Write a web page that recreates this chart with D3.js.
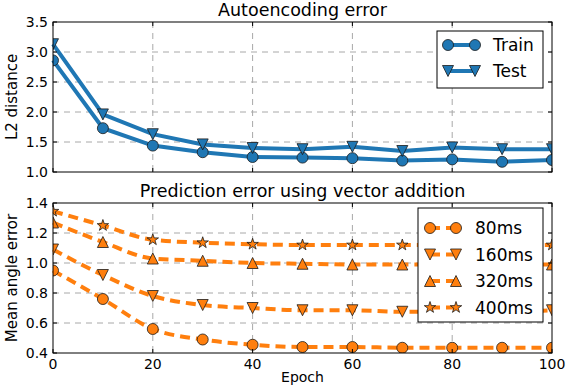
<!DOCTYPE html>
<html lang="en">
<head>
<meta charset="UTF-8">
<title>Autoencoding and prediction error</title>
<style>
  body { margin: 0; background: #fff; }
  text { font-family: "DejaVu Sans", sans-serif; fill: #000; }
</style>
</head>
<body>
<svg id="chart" width="570" height="390"></svg>
<script src="https://cdn.jsdelivr.net/npm/d3@7"></script>
<script>
// data
var epochs = [0, 10, 20, 30, 40, 50, 60, 70, 80, 90, 100];

var trainErr = [2.86, 1.73, 1.44, 1.33, 1.25, 1.24, 1.23, 1.19, 1.21, 1.17, 1.20];
var testErr  = [3.13, 1.96, 1.63, 1.46, 1.40, 1.38, 1.42, 1.35, 1.41, 1.38, 1.38];

var err80  = [0.95, 0.76, 0.56, 0.49, 0.455, 0.44, 0.44, 0.435, 0.435, 0.435, 0.435];
var err160 = [1.09, 0.92, 0.78, 0.72, 0.70, 0.685, 0.685, 0.675, 0.675, 0.675, 0.685];
var err320 = [1.27, 1.14, 1.03, 1.015, 1.0, 0.995, 0.99, 0.99, 0.99, 0.99, 0.99];
var err400 = [1.345, 1.25, 1.155, 1.135, 1.125, 1.12, 1.12, 1.12, 1.12, 1.12, 1.12];

var topTicks = [1.0, 1.5, 2.0, 2.5, 3.0, 3.5];
var botTicks = [0.4, 0.6, 0.8, 1.0, 1.2, 1.4];
var xTicks = [0, 20, 40, 60, 80, 100];

var blue = "#1f77b4", orange = "#ff7f0e";

var svg = d3.select("#chart");
var left = 53, right = 552;

var x = d3.scaleLinear().domain([0, 100]).range([left, right]);

// marker shapes, matplotlib-like
function markerPath(kind, s) {
  var h = s / 2, p = d3.path();
  if (kind === "o") {
    p.arc(0, 0, h, 0, 2 * Math.PI);
  } else if (kind === "v") {
    p.moveTo(-h, -h); p.lineTo(h, -h); p.lineTo(0, h); p.closePath();
  } else if (kind === "^") {
    p.moveTo(-h, h); p.lineTo(h, h); p.lineTo(0, -h); p.closePath();
  } else if (kind === "*") {
    var ri = h * 0.381966;
    for (var i = 0; i < 10; i++) {
      var r = i % 2 ? ri : h, a = -Math.PI / 2 + i * Math.PI / 5;
      if (i === 0) p.moveTo(r * Math.cos(a), r * Math.sin(a));
      else p.lineTo(r * Math.cos(a), r * Math.sin(a));
    }
    p.closePath();
  }
  return p.toString();
}

function panel(opt) {
  var y = d3.scaleLinear().domain(opt.domain).range([opt.bottom, opt.top]);
  var g = svg.append("g");

  // grid
  g.selectAll(".hg").data(opt.yTicks.slice(1, -1)).enter().append("line")
    .attr("x1", left).attr("x2", right)
    .attr("y1", d => y(d)).attr("y2", d => y(d))
    .attr("stroke", "#a8a8a8").attr("stroke-dasharray", "6,5");
  g.selectAll(".vg").data(xTicks.slice(1, -1)).enter().append("line")
    .attr("y1", opt.top).attr("y2", opt.bottom)
    .attr("x1", d => x(d)).attr("x2", d => x(d))
    .attr("stroke", "#a8a8a8").attr("stroke-dasharray", "6,5");

  // series
  opt.series.forEach(function (s) {
    var line = d3.line().x((d, i) => x(epochs[i])).y(d => y(d))
      .curve(opt.dashed ? d3.curveMonotoneX : d3.curveLinear);
    g.append("path").datum(s.values)
      .attr("d", line).attr("fill", "none")
      .attr("stroke", opt.color).attr("stroke-width", 4)
      .attr("stroke-dasharray", opt.dashed ? "10,6" : null);
  });

  // clip markers to the axes box
  var cid = "clip" + opt.top;
  svg.append("clipPath").attr("id", cid).append("rect")
    .attr("x", left).attr("y", opt.top).attr("width", right - left).attr("height", opt.bottom - opt.top);
  var mg = g.append("g").attr("clip-path", "url(#" + cid + ")");
  opt.series.forEach(function (s) {
    mg.selectAll(null).data(s.values).enter().append("path")
      .attr("d", markerPath(s.marker, s.size))
      .attr("transform", (d, i) => "translate(" + x(epochs[i]) + "," + y(d) + ")")
      .attr("fill", opt.color).attr("stroke", "#1a1a1a").attr("stroke-width", 0.8);
  });

  // frame + inward ticks
  g.append("rect").attr("x", left).attr("y", opt.top)
    .attr("width", right - left).attr("height", opt.bottom - opt.top)
    .attr("fill", "none").attr("stroke", "#000");
  opt.yTicks.forEach(function (t) {
    g.append("line").attr("x1", left).attr("x2", left + 4).attr("y1", y(t)).attr("y2", y(t)).attr("stroke", "#000");
    g.append("line").attr("x1", right - 4).attr("x2", right).attr("y1", y(t)).attr("y2", y(t)).attr("stroke", "#000");
    g.append("text").attr("x", left - 5).attr("y", y(t) + 5)
      .attr("text-anchor", "end").attr("font-size", 14).text(t.toFixed(1));
  });
  xTicks.forEach(function (t) {
    g.append("line").attr("x1", x(t)).attr("x2", x(t)).attr("y1", opt.bottom - 4).attr("y2", opt.bottom).attr("stroke", "#000");
    g.append("line").attr("x1", x(t)).attr("x2", x(t)).attr("y1", opt.top).attr("y2", opt.top + 4).attr("stroke", "#000");
    if (opt.xLabels) {
      g.append("text").attr("x", x(t)).attr("y", opt.bottom + 16)
        .attr("text-anchor", "middle").attr("font-size", 14).text(t);
    }
  });

  // titles
  g.append("text").attr("x", (left + right) / 2).attr("y", opt.top - 6)
    .attr("text-anchor", "middle").attr("font-size", 17.5).text(opt.title);
  g.append("text")
    .attr("transform", "translate(17," + (opt.top + opt.bottom) / 2 + ") rotate(-90)")
    .attr("text-anchor", "middle").attr("font-size", 15).text(opt.ylabel);

  // legend
  var L = opt.legend;
  var lg = g.append("g");
  lg.append("rect").attr("x", L.x).attr("y", L.y).attr("width", L.w).attr("height", L.h)
    .attr("fill", "#fff").attr("stroke", "#000");
  opt.series.forEach(function (s, i) {
    var cy = L.y + L.first + i * L.step;
    lg.append("line").attr("x1", L.m1).attr("x2", L.m2).attr("y1", cy).attr("y2", cy)
      .attr("stroke", opt.color).attr("stroke-width", 4)
      .attr("stroke-dasharray", opt.dashed ? "10,6" : null);
    [L.m1, L.m2].forEach(function (mx) {
      lg.append("path").attr("d", markerPath(s.marker, s.size))
        .attr("transform", "translate(" + mx + "," + cy + ")")
        .attr("fill", opt.color).attr("stroke", "#1a1a1a").attr("stroke-width", 0.8);
    });
    lg.append("text").attr("x", L.tx).attr("y", cy + 6).attr("font-size", 17).text(s.name);
  });
}

panel({
  top: 22, bottom: 172, domain: [1.0, 3.5], yTicks: topTicks,
  title: "Autoencoding error", ylabel: "L2 distance", color: blue, dashed: false, xLabels: false,
  series: [
    { name: "Train", values: trainErr, marker: "o", size: 11 },
    { name: "Test", values: testErr, marker: "v", size: 11 }
  ],
  legend: { x: 437, y: 31, w: 106, h: 57, first: 14, step: 26, m1: 448, m2: 475, tx: 493 }
});

panel({
  top: 203, bottom: 353, domain: [0.4, 1.4], yTicks: botTicks,
  title: "Prediction error using vector addition", ylabel: "Mean angle error", color: orange, dashed: true, xLabels: true,
  series: [
    { name: "80ms", values: err80, marker: "o", size: 11 },
    { name: "160ms", values: err160, marker: "v", size: 11 },
    { name: "320ms", values: err320, marker: "^", size: 11 },
    { name: "400ms", values: err400, marker: "*", size: 12 }
  ],
  legend: { x: 418, y: 208, w: 125, h: 114, first: 20, step: 26.5, m1: 430, m2: 456, tx: 475 }
});

svg.append("text").attr("x", (left + right) / 2).attr("y", 382)
  .attr("text-anchor", "middle").attr("font-size", 14).text("Epoch");
</script>
</body>
</html>
